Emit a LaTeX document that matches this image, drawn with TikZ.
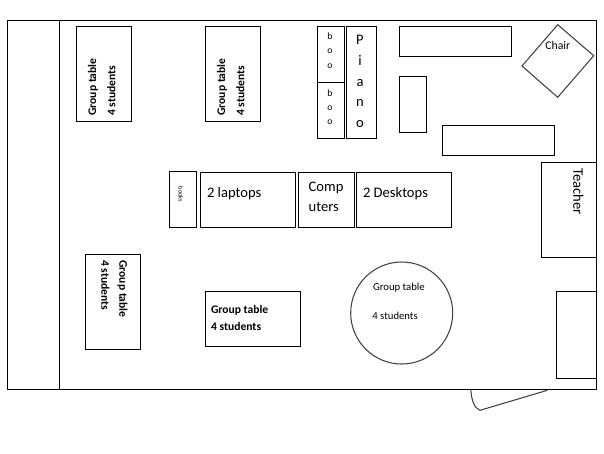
\documentclass[tikz,border=0pt]{standalone}
\usepackage{fontspec}
\setmainfont{Carlito}
\begin{document}
\begin{tikzpicture}[
  x=0.02cm, y=-0.02cm,
  wall/.style={draw=black, line width=0.6pt},
  curved/.style={draw=black!75, line width=0.6pt},
  boldtext/.style={inner sep=0pt, font=\fontsize{6.6}{8}\selectfont\bfseries},
  smalltext/.style={inner sep=0pt, font=\fontsize{6.1}{8}\selectfont},
  bigtext/.style={inner sep=0pt, font=\fontsize{8.3}{10}\selectfont},
  pianotext/.style={inner sep=0pt, align=center, font=\fontsize{8.3}{11.9}\selectfont},
  bootext/.style={inner sep=0pt, align=center, font=\fontsize{5.5}{8.2}\selectfont}
]
\useasboundingbox (0,0) rectangle (604,453);

% Room and door
\draw[wall] (7.5,20.5) rectangle (596.3,389.3);
\draw[wall] (59.5,20.5) -- (59.5,389.3);
\draw[curved] (470.7,389.3) .. controls (471.5,400) and (474,408) .. (480,410.3) -- (547.3,390.3);

% Group tables
\draw[wall] (76.3,26.3) rectangle (131.7,121.3);
\node[boldtext, rotate=90, anchor=base west] (tableonename) at (96,116) {Group table};
\node[boldtext, rotate=90, anchor=base west] (tableonecount) at (115.3,116) {4 students};

\draw[wall] (205.3,26.3) rectangle (260.7,121.3);
\node[boldtext, rotate=90, anchor=base west] (tabletwoname) at (225,116) {Group table};
\node[boldtext, rotate=90, anchor=base west] (tabletwocount) at (244.3,116) {4 students};

\draw[wall] (85.3,254.3) rectangle (140.3,349.3);
\node[boldtext, rotate=-90, anchor=base west] (tablethreename) at (119.3,260) {Group table};
\node[boldtext, rotate=-90, anchor=base west] (tablethreecount) at (101.3,260) {4 students};

\draw[wall] (205.3,291.3) rectangle (300.7,346.3);
\node[boldtext, anchor=base west] (tablefourname) at (210.7,313.3) {Group table};
\node[boldtext, anchor=base west] (tablefourcount) at (210.7,330) {4 students};

\draw[curved] (401.7,313) circle (51);
\node[smalltext, anchor=base west] (roundname) at (372.7,290) {Group table};
\node[smalltext, anchor=base west] (roundcount) at (372,319) {4 students};

% Middle row
\draw[wall] (169.3,171.3) rectangle (196.7,227.3);
\node[inner sep=0pt, rotate=-90, font=\fontsize{3.6}{4}\selectfont] (books) at (180.7,194.5) {books};
\draw[wall] (200.3,172.3) rectangle (295.7,227.3);
\node[bigtext, anchor=base west] (laptops) at (206.7,197.3) {2 laptops};
\draw[wall] (298.3,172.3) rectangle (354.3,227.3);
\node[bigtext, anchor=base west] (comp) at (308.3,191) {Comp};
\node[bigtext, anchor=base west] (uters) at (308.3,211) {uters};
\draw[wall] (356.3,172.3) rectangle (451.7,227.3);
\node[bigtext, anchor=base west] (desktops) at (362.7,197.3) {2 Desktops};

% Shelves and piano
\draw[wall] (317.3,26.3) rectangle (344.3,82.3);
\draw[wall] (317.3,82.3) rectangle (344.3,138.3);
\node[bootext, anchor=north] (booone) at (330,32.5) {b\\o\\o};
\node[bootext, anchor=north] (bootwo) at (330,89) {b\\o\\o};
\draw[wall] (346.3,26.3) rectangle (376.3,138.3);
\node[pianotext, anchor=north] (piano) at (360,34.5) {P\\i\\a\\n\\o};

% Unlabelled benches
\draw[wall] (399.3,26.3) rectangle (511.3,56.3);
\draw[wall] (399.3,76.3) rectangle (426.7,132.3);
\draw[wall] (442.3,125.3) rectangle (554.3,155.3);

% Chair
\draw[curved] (557.7,24.7) -- (593.7,55.7) -- (557.7,97.3) -- (522,66) -- cycle;
\node[inner sep=0pt, anchor=base west, font=\fontsize{6.7}{8}\selectfont] (chair) at (545,49.3) {Chair};

% Teacher and cupboard
\draw[wall] (596.3,162.3) -- (541.3,162.3) -- (541.3,257.3) -- (596.3,257.3);
\node[bigtext, rotate=-90, anchor=base west] (teacher) at (573.3,168.3) {Teacher};
\draw[wall] (596.3,291.3) -- (556.3,291.3) -- (556.3,378.3) -- (596.3,378.3);

\end{tikzpicture}
\end{document}
